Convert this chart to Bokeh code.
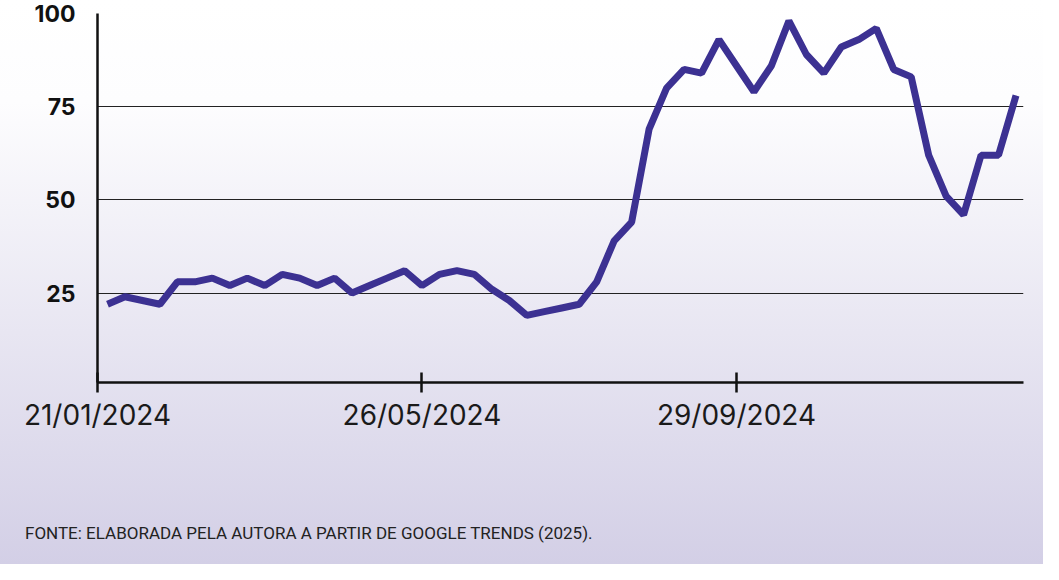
import pandas as pd
from bokeh.plotting import figure
from bokeh.layouts import column
from bokeh.models import ColumnDataSource, FixedTicker, DatetimeTickFormatter, Div
from bokeh.embed import file_html
from bokeh.resources import INLINE

# ---- data ----
START_DATE = "2024-01-21"
N_WEEKS = 53
weeks = pd.date_range(START_DATE, periods=N_WEEKS, freq="7D")
interest = [22, 24, 23, 22, 28, 28, 29, 27, 29, 27,
            30, 29, 27, 29, 25, 27, 29, 31, 27, 30,
            31, 30, 26, 23, 19, 20, 21, 22, 28, 39,
            44, 69, 80, 85, 84, 93, 86, 79, 86, 98,
            89, 84, 91, 93, 96, 85, 83, 62, 51, 46,
            62, 62, 78]
tick_labels = ["21/01/2024", "26/05/2024", "29/09/2024"]
tick_week_index = [0, 18, 36]
y_ticks = [25, 50, 75, 100]
footer = "FONTE: ELABORADA PELA AUTORA A PARTIR DE GOOGLE TRENDS (2025)."

source = ColumnDataSource(data=dict(week=weeks, interest=interest))

x_start = weeks[0] - pd.Timedelta(days=4)
x_end = weeks[-1] + pd.Timedelta(days=3)


def ms(ts):
    return int(pd.Timestamp(ts).value // 10**6)


tick_positions = [ms(x_start)] + [ms(weeks[i]) for i in tick_week_index[1:]]
overrides = {pos: lab for pos, lab in zip(tick_positions, tick_labels)}

p = figure(width=1043, height=470, x_axis_type="datetime",
           x_range=(x_start, x_end), y_range=(1, 100),
           output_backend="svg", toolbar_location=None,
           min_border_left=97, min_border_right=20,
           min_border_top=13, min_border_bottom=88)

p.background_fill_alpha = 0
p.border_fill_alpha = 0
p.outline_line_color = None

p.line(x="week", y="interest", source=source, line_color="#3c3192", line_width=7)

# grid
p.xgrid.visible = False
p.ygrid.ticker = FixedTicker(ticks=y_ticks)
p.ygrid.grid_line_color = "#222222"
p.ygrid.grid_line_width = 1

# x axis
xa = p.xaxis[0]
xa.ticker = FixedTicker(ticks=tick_positions)
xa.formatter = DatetimeTickFormatter(days="%d/%m/%Y", months="%d/%m/%Y")
xa.major_label_overrides = overrides
xa.axis_line_color = "#111111"
xa.axis_line_width = 2.5
xa.major_tick_line_color = "#111111"
xa.major_tick_line_width = 2.5
xa.major_tick_in = 10
xa.major_tick_out = 10
xa.minor_tick_line_color = None
xa.major_label_text_font = "Inter"
xa.major_label_text_font_size = "28px"
xa.major_label_text_color = "#1a1a1a"
xa.major_label_standoff = 5

# y axis
ya = p.yaxis[0]
ya.ticker = FixedTicker(ticks=y_ticks)
ya.axis_line_color = "#111111"
ya.axis_line_width = 2.5
ya.major_tick_in = 0
ya.major_tick_out = 0
ya.minor_tick_line_color = None
ya.major_label_text_font = "Inter"
ya.major_label_text_font_style = "bold"
ya.major_label_text_font_size = "23px"
ya.major_label_text_color = "#111111"
ya.major_label_standoff = 22

# footer (source note)
note = Div(text=f'<span style="font-family: Roboto; font-size: 17px; color: #222222; '
                f'white-space: nowrap;">{footer}</span>',
           width=1043, height=94,
           styles={"padding-top": "46px", "padding-left": "20px", "box-sizing": "border-box"})

layout = column(p, note, width=1043, height=564, spacing=0,
                styles={"background": "linear-gradient(to bottom, #ffffff 0%, #fdfdfe 18%, #d3cfe6 100%)"})

open("out.html", "w").write(file_html(layout, INLINE))
